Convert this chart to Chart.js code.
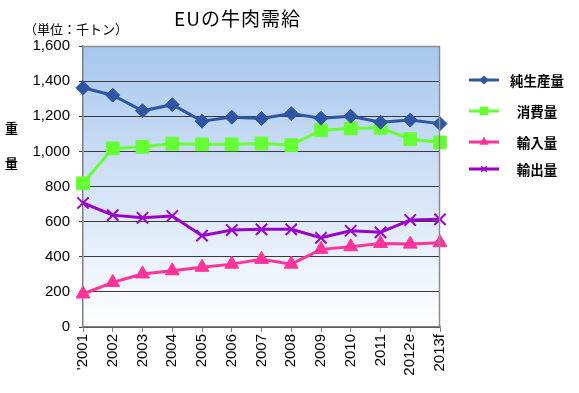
<!DOCTYPE html>
<html>
<head>
<meta charset="utf-8">
<script src="https://cdn.jsdelivr.net/npm/chart.js@4"></script>
<style>
  html,body{margin:0;padding:0;background:#fff;}
  #wrap{position:relative;width:579px;height:393px;overflow:hidden;}
  canvas{position:absolute;left:0;top:0;}
  .t{position:absolute;white-space:nowrap;font-family:"Noto Sans CJK JP","Noto Sans",sans-serif;color:#000;}
  #title{left:174px;top:4px;font-size:19px;letter-spacing:1px;}
  #unit{left:24px;top:19px;font-size:13px;}
  .yl{left:5px;font-size:13px;font-weight:bold;}
  .lg{font-size:13.5px;font-weight:bold;transform:translate(-50%,-50%);}
</style>
</head>
<body>
<div id="wrap">
  <canvas id="c" width="579" height="393"></canvas>
  <div class="t" id="title">EUの牛肉需給</div>
  <div class="t" id="unit">（単位：千トン）</div>
  <div class="t yl" style="top:118px">重</div>
  <div class="t yl" style="top:153px">量</div>
  <div id="legend"></div>
</div>
<script>
const categories = ["'2001","2002","2003","2004","2005","2006","2007","2008","2009","2010","2011","2012e","2013f"];
const seriesNames = ["純生産量","消費量","輸入量","輸出量"];
const netProduction = [1362,1320,1231,1266,1172,1195,1187,1215,1189,1200,1166,1178,1158];
const consumption = [818,1017,1026,1044,1040,1040,1045,1036,1120,1130,1134,1070,1051];
const imports = [188,254,302,320,340,358,385,358,442,457,476,472,480];
const exports = [706,637,622,632,520,552,556,556,508,548,539,609,613];
const yTicks = [0,200,400,600,800,1000,1200,1400,1600];

const colors = ["#2f56a3","#66ff33","#ff3399","#9900cc"];
const styles = ["rectRot","rect","triangle","crossRot"];
const radii = [7,9,8,8];
const legendRadii = [3.5,5,4,4];
const seriesData = [netProduction, consumption, imports, exports];
const legendY = [80,111,142,169];

const bgPlugin = {
  id:'bg',
  beforeDraw(chart){
    const {ctx, chartArea:a} = chart;
    const g = ctx.createLinearGradient(0,a.top,0,a.bottom);
    g.addColorStop(0,'#a7c7ee');
    g.addColorStop(1,'#ffffff');
    ctx.save();
    ctx.fillStyle = g;
    ctx.fillRect(a.left,a.top,a.right-a.left,a.bottom-a.top);
    ctx.restore();
  },
  afterDatasetsDraw(chart){
    const {ctx, chartArea:a} = chart;
    ctx.save();
    ctx.strokeStyle = '#8c8c8c';
    ctx.lineWidth = 1.5;
    ctx.beginPath();
    ctx.moveTo(a.left, a.top+0.5);
    ctx.lineTo(a.right-0.5, a.top+0.5);
    ctx.lineTo(a.right-0.5, a.bottom);
    ctx.stroke();
    ctx.restore();
  },
  afterDraw(chart){
    const ctx = chart.ctx;
    ctx.save();
    chart.data.datasets.forEach((ds,i)=>{
      const y = legendY[i];
      ctx.strokeStyle = ds.borderColor;
      ctx.fillStyle = ds.borderColor;
      ctx.lineWidth = 3;
      ctx.beginPath();
      ctx.moveTo(469,y);
      ctx.lineTo(499,y);
      ctx.stroke();
      ctx.lineWidth = 1.5;
      Chart.helpers.drawPoint(ctx,{pointStyle:styles[i],radius:legendRadii[i],borderWidth:1.5,rotation:0},484,y);
    });
    ctx.restore();
  }
};

// legend texts
const lg = document.getElementById('legend');
seriesNames.forEach((n,i)=>{
  const d = document.createElement('div');
  d.className='t lg';
  d.style.left='537px';
  d.style.top=legendY[i]+'px';
  d.textContent=n;
  lg.appendChild(d);
});

Chart.register(bgPlugin);

const tickFont = {family:'Arial, "Liberation Sans", sans-serif',size:15};

new Chart(document.getElementById('c'),{
  type:'line',
  data:{
    labels:categories,
    datasets:seriesData.map((d,i)=>({
      label:seriesNames[i],
      data:d,
      borderColor:colors[i],
      backgroundColor:colors[i],
      pointBorderColor:colors[i],
      pointBackgroundColor:colors[i],
      pointStyle:styles[i],
      pointRadius:radii[i],
      pointBorderWidth: styles[i]==='crossRot'?2:1,
      borderWidth:3,
      tension:0,
      fill:false,
      clip:false
    }))
  },
  options:{
    responsive:false,
    animation:false,
    events:[],
    layout:{padding:{left:0,top:46,right:139,bottom:0}},
    plugins:{legend:{display:false},title:{display:false},tooltip:{enabled:false}},
    scales:{
      x:{
        offset:false,
        grid:{display:true,drawOnChartArea:false,drawTicks:true,tickLength:5,color:'#808080'},
        border:{display:true,color:'#808080',width:1.5},
        ticks:{minRotation:90,maxRotation:90,autoSkip:false,padding:2,color:'#000',font:tickFont},
        afterFit(s){s.height=66;}
      },
      y:{
        min:0,max:1600,
        afterBuildTicks(s){s.ticks = yTicks.map(v=>({value:v}));},
        grid:{color:'#3a3a3a',lineWidth:1,tickLength:4},
        border:{display:true,color:'#808080',width:1.5},
        ticks:{padding:9,color:'#000',font:tickFont,
          callback:v=>v.toLocaleString('en-US')},
        afterFit(s){s.width=83;}
      }
    }
  }
});
</script>
</body>
</html>
